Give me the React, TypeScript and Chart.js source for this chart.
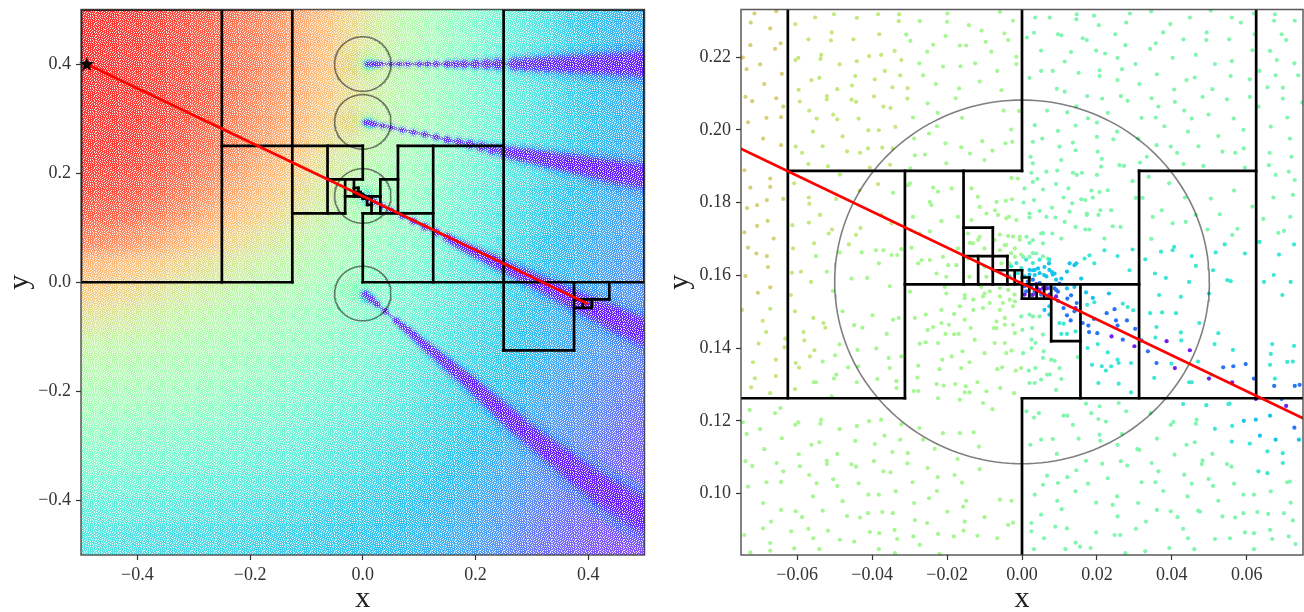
import React, { useEffect, useRef } from "react";
import { Chart, registerables } from "chart.js";

Chart.register(...registerables);

// LEFT PANEL DATA ------------------------------------------------------------
// The reference holds tens of thousands of dots. They cannot be read one by one,
// so this panel uses a colour table sampled by eye (colormap position 0..1),
// hand-read streak centre lines and a decorative speckle texture.
const gridXs = [-0.5,-0.45,-0.4,-0.35,-0.3,-0.25,-0.2,-0.15,-0.1,-0.05,0,0.05,0.1,0.15,0.2,0.25,0.3,0.35,0.4,0.45,0.5];
const gridYs = [0.5,0.45,0.4,0.35,0.3,0.25,0.2,0.15,0.1,0.05,0,-0.05,-0.1,-0.15,-0.2,-0.25,-0.3,-0.35,-0.4,-0.45,-0.5];
const colourRows = [
[.98,.98,.98,.97,.95,.93,.90,.87,.82,.77,.70,.63,.58,.53,.48,.43,.38,.33,.28,.25,.21],
[.99,.99,.98,.97,.95,.92,.89,.86,.81,.76,.70,.63,.58,.53,.47,.42,.37,.32,.27,.24,.21],
[1,.99,.98,.97,.95,.92,.89,.86,.81,.76,.68,.62,.57,.52,.47,.41,.36,.31,.27,.24,.21],
[.99,.99,.98,.97,.95,.92,.89,.85,.80,.75,.68,.62,.57,.52,.47,.41,.36,.31,.27,.24,.21],
[.99,.99,.98,.97,.95,.92,.88,.84,.79,.74,.67,.61,.56,.51,.46,.41,.36,.31,.27,.24,.21],
[.98,.98,.98,.96,.94,.90,.86,.82,.77,.71,.66,.60,.55,.51,.46,.40,.35,.31,.27,.24,.21],
[.98,.98,.97,.95,.92,.88,.84,.79,.74,.68,.62,.57,.53,.49,.44,.39,.34,.30,.26,.23,.20],
[.96,.96,.95,.93,.89,.85,.80,.76,.71,.65,.58,.54,.51,.47,.42,.37,.33,.28,.25,.22,.19],
[.93,.93,.92,.89,.85,.80,.76,.72,.67,.62,.56,.53,.49,.45,.40,.35,.31,.27,.24,.21,.19],
[.88,.87,.85,.82,.78,.74,.70,.66,.62,.58,.54,.50,.47,.43,.38,.34,.30,.25,.22,.20,.18],
[.78,.77,.75,.73,.70,.67,.64,.61,.58,.55,.52,.48,.45,.41,.36,.32,.28,.24,.22,.19,.17],
[.74,.72,.70,.67,.64,.62,.59,.57,.55,.52,.49,.46,.43,.39,.35,.31,.27,.23,.21,.19,.16],
[.68,.66,.64,.62,.60,.58,.56,.54,.52,.50,.47,.44,.41,.37,.33,.30,.26,.22,.20,.18,.15],
[.62,.60,.59,.58,.56,.55,.53,.52,.50,.48,.45,.43,.39,.35,.31,.28,.25,.22,.19,.17,.14],
[.58,.57,.56,.55,.54,.52,.51,.49,.47,.45,.43,.40,.37,.33,.30,.27,.24,.20,.18,.15,.12],
[.55,.54,.53,.52,.51,.49,.47,.46,.44,.42,.40,.38,.35,.31,.28,.26,.22,.19,.16,.14,.11],
[.51,.50,.49,.48,.47,.46,.44,.43,.41,.39,.37,.35,.33,.30,.27,.24,.21,.17,.15,.12,.09],
[.47,.46,.45,.44,.43,.42,.41,.39,.38,.36,.34,.32,.30,.28,.25,.22,.19,.15,.13,.10,.08],
[.43,.42,.41,.40,.39,.38,.37,.36,.34,.33,.31,.29,.28,.25,.23,.20,.17,.14,.11,.09,.07],
[.38,.37,.37,.36,.35,.34,.33,.32,.31,.29,.28,.27,.25,.23,.21,.18,.15,.12,.10,.08,.06],
[.35,.34,.33,.32,.31,.31,.30,.29,.28,.27,.26,.25,.24,.22,.20,.17,.13,.10,.08,.06,.05],
];
// x, y, colour position, radius
const haloSpots = [
[-0.02,0.4,.7,17],[0.002,0.4,.62,16],[0.012,0.4,.52,11],[0.012,0.4,.36,7],
[-0.02,0.294,.7,17],[0.002,0.294,.62,16],[0.012,0.293,.52,11],[0.012,0.291,.36,7],
[0,0.157,.53,21],[0.005,0.157,.44,13],[0.01,0.154,.3,8],
[-0.016,-0.012,.52,18],[0,-0.02,.46,15],[0.006,-0.027,.3,9],
];
// x, y, half width
const streakA = [[.008,.4,1.8],[.016,.4,2],[.024,.4,2],[.032,.4,1.5],[.05,.4,1.4],[.065,.4,1.4],[.08,.4,1.6],[.1,.4,1.8],[.115,.4,2],[.13,.4,2.2],[.15,.4,2.6],[.165,.4,2.8],[.18,.4,3],[.2,.4,3.3],[.22,.4,3.7],[.24,.4,4],[.27,.4,4.6],[.29,.4,5],[.31,.4,5.4],[.33,.4,5.8],[.35,.4,6.2],[.37,.4,6.6],[.39,.4,7],[.41,.4,7.4],[.43,.4,7.8],[.45,.4,8.2],[.47,.4,8.6],[.49,.4,9],[.5,.399,9]];
const streakB = [[.005,.293,2],[.012,.292,2.2],[.02,.29,2.2],[.035,.287,1.7],[.05,.284,1.6],[.07,.279,1.7],[.09,.275,1.8],[.11,.271,2],[.13,.266,2.2],[.15,.261,2.5],[.17,.257,2.8],[.19,.253,3.1],[.21,.249,3.4],[.23,.244,3.8],[.25,.24,4.2],[.265,.237,4.5],[.28,.234,4.8],[.295,.232,5.1],[.31,.229,5.4],[.325,.226,5.7],[.34,.223,6],[.355,.22,6.3],[.37,.218,6.6],[.385,.215,6.9],[.4,.212,7.2],[.415,.209,7.5],[.43,.206,7.8],[.445,.203,8.1],[.46,.2,8.4],[.48,.197,8.8],[.5,.194,9]];
const streakC = [[.005,.155,1.8],[.02,.148,2.2],[.035,.14,2],[.05,.132,2],[.07,.122,2.2],[.09,.112,2.4],[.11,.102,2.6],[.13,.092,2.8],[.15,.082,3],[.16,.076,3.1],[.17,.07,3.2],[.18,.065,3.4],[.19,.06,3.5],[.2,.055,3.7],[.21,.05,3.8],[.22,.045,4],[.23,.04,4.2],[.24,.035,4.4],[.25,.03,4.6],[.265,.022,4.9],[.28,.015,5.2],[.295,.008,5.5],[.31,0,5.8],[.325,-.007,6.1],[.34,-.014,6.4],[.355,-.022,6.7],[.37,-.03,7],[.385,-.037,7.3],[.4,-.044,7.6],[.415,-.051,8],[.43,-.058,8.4],[.445,-.066,8.8],[.46,-.073,9.2],[.48,-.082,9.8],[.5,-.092,10.5]];
const streakD = [[.005,-.022,2.6],[.015,-.031,2.8],[.025,-.04,2.2],[.04,-.053,2.2],[.06,-.071,2.4],[.07,-.08,2.6],[.08,-.088,2.8],[.09,-.097,3],[.1,-.106,3.2],[.11,-.115,3.4],[.12,-.124,3.6],[.13,-.132,3.8],[.14,-.141,4],[.15,-.15,4.2],[.16,-.158,4.4],[.17,-.167,4.6],[.18,-.175,4.8],[.19,-.184,5],[.2,-.193,5.2],[.21,-.202,5.4],[.22,-.212,5.6],[.23,-.221,5.8],[.24,-.23,6],[.25,-.239,6.2],[.26,-.248,6.4],[.27,-.257,6.7],[.28,-.266,7],[.295,-.279,7.3],[.31,-.291,7.6],[.325,-.303,7.9],[.34,-.315,8.2],[.355,-.327,8.6],[.37,-.339,9],[.385,-.351,9.4],[.4,-.362,9.8],[.415,-.374,10.2],[.43,-.385,10.6],[.445,-.394,11],[.46,-.403,11.4],[.48,-.415,12],[.5,-.428,12.5]];

// RIGHT PANEL DATA (x, y pairs in units of 1e-4) -------------------------------
const dotsOlive = [-714,2320,-656,2326,-724,2295,-672,2279,-725,2233,-644,2238,-659,2223,-745,2199,-699,2180,-735,2167,-641,2154,-688,2126,-738,2091,-720,2079,-656,2087,-637,2064,-682,2033,-643,2035,-731,2021,-691,1976,-643,1958,-741,1889,-672,1866,-672,1843,-725,1841,-681,1807,-637,1810,-707,1793,-734,1785,-663,1701,-707,1736,-679,1750,-741,1718,-709,1660,-681,1653,-731,1676,-678,1623,-738,1598,-672,1567,-705,1552];
const dotsLime = [-605,2291,-552,2309,-502,2318,-441,2308,-384,2318,-328,2318,-329,2299,-570,2249,-508,2268,-510,2246,-450,2249,-381,2263,-605,2192,-597,2198,-536,2206,-538,2195,-487,2180,-441,2189,-408,2203,-376,2206,-340,2217,-322,2192,-562,2137,-541,2143,-445,2148,-393,2139,-366,2162,-325,2150,-596,2110,-593,2078,-521,2093,-521,2084,-493,2112,-454,2122,-455,2083,-443,2077,-395,2092,-346,2117,-305,2115,-306,2086,-370,2064,-351,2060,-568,2053,-548,2031,-504,2042,-493,2029,-436,2031,-558,1995,-479,1982,-410,1999,-382,1999,-338,2008,-604,1954,-587,1937,-532,1955,-467,1941,-432,1937,-411,1949,-373,1951,-345,1949,-570,1906,-518,1900,-406,1896,-352,1904,-608,1853,-486,1877,-384,1851,-434,1833,-496,1810,-569,1814,-568,1797,-539,1766,-555,1688,-613,1738,-569,1745,-507,1726,-516,1715,-431,1730,-443,1711,-462,1685,-375,1766,-348,1743,-611,1674,-614,1607,-590,1610,-563,1582,-617,1546,-747,1505,-672,1508,-692,1475,-683,1444,-632,1426,-634,1402,-703,1412,-657,1368,-718,1361,-713,1317,-657,1323,-723,1292,-672,1276,-606,1501,-557,1483,-530,1469,-525,1456,-606,1287,-604,1359,-595,1346,-583,1444,-581,1421,-554,1394,-566,1377];
const dotsGreen = [-273,2299,-199,2320,-200,2297,-142,2288,-309,2262,-298,2245,-237,2234,-204,2258,-166,2232,-149,2232,-108,2273,-97,2242,-253,2215,-274,2183,-211,2174,-164,2175,-125,2183,-264,2150,-230,2126,-168,2114,-113,2133,-252,2073,-177,2087,-291,2034,-225,2047,-227,2010,-288,1976,-248,1990,-160,2033,-286,1930,-259,1932,-204,1963,-162,1952,-139,1935,-106,1969,-298,1894,-202,1908,-100,1917,-344,1827,-299,1853,-237,1841,-224,1830,-246,1802,-242,1793,-215,1749,-171,1761,-188,1839,-135,1839,-118,1816,-135,1752,-95,1770,-113,1788,-370,1669,-390,1669,-348,1656,-333,1656,-322,1672,-487,1663,-428,1663,-550,1653,-521,1610,-455,1591,-413,1593,-382,1633,-353,1570,-505,1557,-304,1848,-291,1761,-273,1715,-296,1724,-246,1721,-246,1642,-268,1642,-295,1676,-277,1633,-211,1651,-197,1628,-228,1605,-202,1596,-175,1628,-171,1674,-144,1715,-131,1688,-113,1706,-100,1674,-144,1646,-140,1596,-100,1623,-95,1596,-299,1555,-206,1568,-202,1550,-153,1546,-109,1568,-100,1550,-479,1501,-448,1463,-426,1456,-399,1490,-344,1478,-329,1483,-499,1380,-487,1410,-439,1395,-389,1399,-361,1439,-356,1373,-322,1377,-532,1363,-464,1347,-437,1350,-353,1345,-556,1306,-550,1306,-502,1316,-496,1327,-441,1306,-386,1315,-335,1309,-335,1290,-508,1267,-286,1483,-257,1492,-237,1458,-252,1450,-215,1505,-181,1494,-153,1478,-215,1469,-195,1464,-204,1439,-181,1438,-169,1439,-137,1455,-126,1423,-273,1412,-257,1416,-224,1414,-188,1377,-213,1368,-159,1391,-140,1361,-100,1386,-277,1352,-220,1342,-279,1319,-228,1301,-209,1297,-178,1301,-162,1345,-150,1295,-119,1306,-289,1282,-277,1282,-224,1262,-166,1258,-153,1278,-140,1278,-95,1281,-104,1249,-727,1230,-645,1235,-659,1221,-699,1177,-745,1196,-735,1164,-641,1152,-688,1122,-738,1089,-720,1076,-655,1084,-637,1061,-682,1031,-643,1032,-731,1019,-691,974,-643,955,-670,923,-691,904,-741,886,-672,864,-672,843,-725,838,-605,1189,-597,1196,-536,1203,-538,1192,-487,1177,-441,1186,-408,1199,-376,1203,-322,1190,-274,1180,-211,1166,-166,1166,-129,1168,-562,1134,-541,1141,-445,1145,-393,1136,-367,1159,-325,1148,-264,1148,-233,1123,-172,1095,-115,1129,-596,1108,-593,1075,-521,1090,-521,1081,-493,1109,-455,1080,-443,1074,-395,1089,-346,1114,-305,1111,-306,1083,-370,1061,-351,1058,-252,1070,-113,1067,-180,1051,-568,1051,-548,1028,-504,1039,-493,1021,-436,1028,-558,992,-479,979,-410,997,-382,997,-337,1006,-292,1031,-225,1045,-227,1007,-288,974,-248,987,-160,1030,-149,980,-157,964,-199,950,-604,951,-587,935,-532,953,-467,938,-432,934,-411,946,-373,949,-345,946,-286,927,-253,919,-153,923,-100,935,-616,896,-570,903,-518,898,-406,894,-381,891,-340,900,-290,882,-224,889,-182,882,-156,898,-119,884,-557,877,-486,873,-448,868,-333,875,-273,859,-608,849,-541,847,-382,847,-339,836,-220,834,-82,2215,-59,2324,-47,2265,-37,2247,-15,2181,-66,2162,-55,2109,-24,2300,-15,2201,-79,1943,-44,1963,-26,1967,-49,2053,-8,2052,-29,2001,-28,1868,-11,1866,-68,1802,-43,1805,-27,1809,-72,1779,-64,1766,-35,1761,-15,1752,-19,1674,-6,1706,-37,1708,-46,1683,-59,1669,-73,1697,-33,1633,-55,1633,-19,1651,-42,1757,-73,1414,-46,1414,-28,1393,-42,1386,-66,1342,-53,1347,-17,1338,-2,1345,-58,1290,-21,1276,-68,1455,-46,1464,-19,1441,-51,1524,-19,1528,-46,1483,-24,1464,-68,1473,-75,1455,-79,1232,-59,983,-28,980,-37,914,-24,920,-66,877,-139,1689,-117,1698,-59,1712,-24,1707,-6,1698,-42,1684,-29,1661,-2,1657,-130,1533,-104,1542,-86,1524,-59,1542,-33,1533,-104,1510,-59,1505,-24,1515,-166,1515,-153,1537,-130,1505,-86,1556,-59,1565,-37,1560,-20,1547];
const dotsMint = [35,2309,74,2309,146,2318,192,2314,288,2320,345,2326,448,2309,504,2328,560,2309,619,2320,675,2318,145,2304,205,2288,278,2295,396,2291,584,2295,673,2300,728,2300,13,2254,32,2267,96,2263,105,2260,162,2252,173,2247,249,2263,276,2233,377,2268,357,2238,342,2223,431,2249,493,2268,492,2247,553,2249,621,2263,693,2263,705,2247,51,2218,131,2214,198,2218,222,2210,255,2198,114,2188,303,2181,402,2198,464,2206,515,2181,560,2189,615,2219,662,2217,680,2192,727,2183,51,2162,82,2162,151,2157,207,2164,267,2167,207,2148,255,2137,313,2126,360,2153,439,2137,461,2144,557,2148,608,2139,677,2150,737,2150,634,2162,20,2143,93,2113,114,2105,174,2093,214,2086,264,2093,282,2080,346,2087,406,2111,408,2077,482,2091,508,2112,547,2084,608,2091,655,2117,696,2116,696,2086,631,2064,748,2075,67,2053,121,2048,145,2065,176,2032,229,2047,364,2064,433,2053,498,2042,319,2033,357,2034,453,2031,565,2031,708,2034,34,2013,96,1997,143,2012,200,2020,254,1995,380,2010,443,1995,591,2000,664,2009,715,1976,524,1983,29,1967,54,1976,100,1954,136,1965,244,1974,200,1981,310,1976,359,1958,397,1954,471,1955,414,1937,535,1940,569,1937,592,1949,661,1937,23,1926,105,1917,143,1944,202,1940,213,1920,211,1899,260,1903,272,1901,315,1910,333,1926,431,1906,484,1901,595,1896,659,1903,719,1926,677,1876,712,1885,29,1908,65,1885,94,1888,136,1882,146,1876,160,1882,200,1876,25,1882,29,1857,41,1865,91,1851,124,1839,56,1836,7,1839,185,1833,207,1829,229,1834,295,1859,304,1813,322,1813,338,1871,393,1853,435,1814,504,1811,566,1833,615,1789,671,1814,728,1862,723,1821,4,1800,32,1807,80,1786,111,1814,134,1798,158,1809,169,1807,189,1814,238,1779,209,1779,20,1770,20,1759,47,1777,65,1761,89,1759,127,1775,173,1766,173,1770,143,1733,114,1747,169,1726,180,1726,204,1766,242,1735,263,1733,220,1701,349,1761,373,1779,402,1743,437,1747,464,1766,495,1726,528,1768,575,1728,561,1711,644,1755,716,1761,684,1717,699,1722,345,1700,12,1706,29,1697,51,1715,81,1715,105,1701,56,1688,20,1651,38,1660,69,1646,3,1651,171,1247,207,1240,258,1249,278,1226,343,1221,397,1189,404,1197,464,1192,466,1203,360,1151,439,1134,461,1141,508,1109,313,1120,255,1134,207,1162,209,1145,151,1151,82,1150,51,1148,22,1134,12,1226,32,1209,45,1221,111,1214,121,1214,136,1189,185,1221,204,1205,224,1198,267,1164,308,1122,93,1109,171,1090,214,1082,264,1089,281,1077,346,1084,407,1107,482,1091,480,1081,547,1081,559,1074,364,1061,433,1052,145,1064,121,1045,67,1049,56,1024,96,1029,176,1027,229,1042,319,1031,356,1031,453,1027,498,1040,510,1021,566,1027,377,1007,442,992,591,997,619,997,664,1006,708,1031,715,1033,717,975,524,980,34,997,143,1006,198,975,254,992,242,969,310,974,94,980,106,957,51,942,255,937,360,955,397,951,470,953,475,950,415,935,535,937,569,934,591,946,628,949,657,944,699,946,723,926,25,919,25,896,89,909,120,904,198,893,331,923,304,903,247,886,262,886,430,903,443,877,515,875,555,877,595,893,619,891,662,900,668,875,712,882,730,861,59,877,143,865,155,854,183,850,116,847,32,847,276,836,329,841,393,850,460,847,619,847,3,1386,25,1400,58,1391,56,1373,78,1368,87,1365,100,1345,18,1338,36,1345,67,1327,74,1327,51,1313,105,1315,20,1304,34,1304,91,1285,1,1450,27,1455,25,1423,36,1414,56,1437,149,1375,20,1492,47,1487,29,1487,-2,1487,20,1689,56,1716,29,1661,56,1652];
const dotsAqua = [220,1669,180,1655,167,1646,193,1633,329,1644,371,1665,295,1671,287,1614,255,1653,402,1669,406,1678,453,1653,517,1663,541,1685,595,1660,634,1692,686,1657,726,1685,672,1601,717,1582,646,1582,695,1546,355,1605,384,1593,446,1582,464,1626,510,1614,548,1587,557,1584,366,1546,424,1541,499,1550,174,1519,193,1526,269,1522,282,1513,297,1504,342,1496,374,1498,411,1496,424,1443,425,1421,356,1429,359,1458,473,1469,514,1411,563,1395,470,1363,399,1357,353,1318,446,1306,453,1306,505,1327,524,1441,668,1411,664,1384,662,1354,675,1316,708,1362,723,1363,726,1406,430,1246,492,1243,551,1246,554,1247,515,1178,561,1186,560,1143,608,1137,655,1116,696,1111,696,1084,631,1061,655,1056,175,1400,229,1388,255,1368,258,1359,291,1359,213,1350,187,1354,224,1338,238,1350,204,1304,258,1302,291,1278,100,1469,111,1467,143,1446,105,1439,120,1439,202,1411,-15,1634,-29,1625,11,1643,29,1634,47,1643,73,1643,-2,1620,-11,1606,-33,1597,-6,1579];
const dotsCyan = [145,1633,127,1633,120,1610,140,1628,158,1591,105,1591,87,1605,60,1623,59,1601,80,1609,72,1633,43,1619,29,1614,34,1601,47,1577,232,1550,189,1538,171,1553,140,1568,120,1564,662,1214,592,1200,635,1159,677,1148,739,1148,624,1203,20,1615,34,1615,47,1606,65,1597,82,1602,20,1602,7,1597,73,1615,91,1588,73,1515,73,1492,60,1505];
const dotsBlue = [100,1577,96,1530,146,1524,111,1510,140,1501,120,1490,130,1476,162,1469,192,1480,177,1462,226,1496,247,1507,251,1476,280,1476,302,1453,255,1462,179,1444,201,1441,269,1423,319,1421,336,1391,359,1359,537,1347,564,1350,597,1356,619,1316,673,1296,728,1296,741,1299,693,1260,727,1181,27,1545,121,1536,131,1545,96,1555,87,1564,16,1583,29,1588,7,1570,25,1570,47,1579,65,1574,91,1560,11,1556,34,1556,51,1547,73,1565];
const dotsPurple = [38,1576,65,1564,239,1432,300,1405,386,1419,408,1345,448,1394,499,1316,561,1306,624,1260,705,1241,143,1510,20,1574,40,1565,56,1565,29,1547,47,1560,73,1547,91,1542,7,1547];

// Decision-tree cell edges: x0, y0, x1, y1
const cellEdges = [
[-.5,.5,-.125,.5],[.25,.5,.5,.5],[-.5,0,-.125,0],[0,0,.5,0],[-.25,.25,0,.25],[.0625,.25,.25,.25],
[-.125,.1262,-.03125,.1262],[0,.1262,.125,.1262],[-.0625,.1887,0,.1887],[.03125,.1887,.0625,.1887],
[-.03125,.1575,.03125,.1575],[-.0156,.1731,-.0078,.1731],[-.0156,.1653,-.0039,.1653],[-.0078,.1614,0,.1614],
[0,.1594,.00195,.1594],[0,.1536,.0078,.1536],[.0078,.1419,.0156,.1419],[.25,-.125,.375,-.125],
[.375,-.03125,.4375,-.03125],[.375,-.0469,.40625,-.0469],
[-.5,0,-.5,.5],[-.25,0,-.25,.5],[-.125,0,-.125,.5],[-.0625,.1262,-.0625,.25],[-.03125,.1262,-.03125,.1887],
[0,.1887,0,.25],[0,0,0,.1262],[-.0156,.1575,-.0156,.1887],[-.0078,.1575,-.0078,.1731],[-.0117,.1575,-.0117,.1653],
[-.0039,.1575,-.0039,.1653],[-.00195,.1575,-.00195,.1614],[0,.1536,0,.1614],[.00195,.1536,.00195,.1594],
[.0039,.1536,.0039,.1575],[.0059,.1536,.0059,.1575],[.0078,.1419,.0078,.1575],[.0156,.1262,.0156,.1575],
[.03125,.1262,.03125,.1887],[.0625,.1262,.0625,.25],[.125,0,.125,.25],[.25,-.125,.25,.5],[.5,0,.5,.5],
[.375,-.125,.375,0],[.4375,-.03125,.4375,0],[.40625,-.0469,.40625,-.03125],[.3906,-.0469,.3906,-.03125],
];
// centre x, centre y, radius
const circles = [[0,.4,.05],[0,.294,.05],[0,.1582,.05],[0,-.0207,.05]];
const rayPoints = [{x:-.49,y:.4},{x:.4,y:-.04}];
const starPoint = [{x:-.49,y:.4}];

const leftXTicks = [-.4,-.2,0,.2,.4];
const leftYTicks = [-.4,-.2,0,.2,.4];
const rightXTicks = [-.06,-.04,-.02,0,.02,.04,.06];
const rightYTicks = [.1,.12,.14,.16,.18,.2,.22];
const speckleRows = [
"#..#..#...#..#.#...#..#.",".#...#..#...#....#...#..","...#...#..#...##...#...#","#.#..#...#..#....#...#..",
"...#...#...#..#.#..#..#.",".#...#..##...#....#...#.","#..#...#...#...#.#..#...","..#..#...#...#.....#..#.",
"#...#..#...#..#.#.#...#.",".#.#..#..#...#......#..#","....#...#..#...#.#.#....","#.#...#...#..#.....#.#.#",
"...#.#..#...#..#.#.....#",".#.....#..#...#...#.#.#.","#..#.#...#..#...#......#","..#...#.#..#..#...#.#...",
"#...#.....#.....#.#..#.#",".#.#..#.#..#.#.......#..","....#....#....#.#.#.#..#","#.#..#.#...#.#.......#..",
"...#....#.#....#.#.#...#",".#...#.....#.#.......#..","#..#...#.#.....#.#.#...#","..#..#...#..#.#.......#.",
];

const FONT = "'Liberation Serif', serif";

function rainbow(t: number) {
  const r = Math.min(1, Math.abs(2 * t - 0.5));
  const g = Math.sin(Math.PI * t);
  const b = Math.cos((Math.PI * t) / 2);
  return [Math.round(r * 255), Math.round(g * 255), Math.round(b * 255)];
}
function css(t: number, a = 1) {
  const [r, g, b] = rainbow(t);
  return `rgba(${r},${g},${b},${a})`;
}

const blobCache = new Map<string, HTMLCanvasElement>();
function blob(t: number, radius: number, inner: number, alpha: number) {
  const key = `${t.toFixed(2)}|${radius.toFixed(1)}|${inner}|${alpha}`;
  let c = blobCache.get(key);
  if (!c) {
    c = document.createElement("canvas");
    const s = Math.ceil(radius) * 2 + 2;
    c.width = s;
    c.height = s;
    const g = c.getContext("2d")!;
    const grad = g.createRadialGradient(s / 2, s / 2, 0, s / 2, s / 2, radius);
    grad.addColorStop(0, css(t, alpha));
    grad.addColorStop(inner, css(t, alpha));
    grad.addColorStop(1, css(t, 0));
    g.fillStyle = grad;
    g.fillRect(0, 0, s, s);
    blobCache.set(key, c);
  }
  return c;
}

function starCanvas() {
  const c = document.createElement("canvas");
  c.width = 18;
  c.height = 18;
  const g = c.getContext("2d")!;
  g.fillStyle = "#000";
  g.beginPath();
  for (let i = 0; i < 10; i++) {
    const r = i % 2 ? 3.2 : 8;
    const a = -Math.PI / 2 + (i * Math.PI) / 5;
    const px = 9 + r * Math.cos(a);
    const py = 9.5 + r * Math.sin(a);
    if (i) g.lineTo(px, py);
    else g.moveTo(px, py);
  }
  g.closePath();
  g.fill();
  return c;
}

const specklePlugin = {
  id: "speckle",
  afterDatasetDraw(chart: any, args: any) {
    const ds = chart.data.datasets[args.index];
    const { left, top, width, height } = chart.chartArea;
    const ctx = chart.ctx;
    if (ds.whiten) {
      ctx.save();
      ctx.fillStyle = "rgba(255,255,255,0.2)";
      ctx.fillRect(left, top, width, height);
      ctx.restore();
    }
    if (!ds.speckle) return;
    const size = speckleRows.length;
    const tile = document.createElement("canvas");
    tile.width = size;
    tile.height = size;
    const g = tile.getContext("2d")!;
    g.fillStyle = "rgba(255,255,255,0.85)";
    speckleRows.forEach((row, y) => {
      for (let x = 0; x < row.length; x++) if (row[x] === "#") g.fillRect(x, y, 1, 1);
    });
    ctx.save();
    ctx.fillStyle = ctx.createPattern(tile, "repeat");
    ctx.fillRect(left, top, width, height);
    ctx.restore();
  },
};

const framePlugin = {
  id: "frame",
  afterDatasetsDraw(chart: any) {
    const { left, top, width, height } = chart.chartArea;
    const ctx = chart.ctx;
    ctx.save();
    ctx.strokeStyle = "rgba(60,60,60,0.85)";
    ctx.lineWidth = 1.5;
    ctx.strokeRect(left, top, width, height);
    ctx.restore();
  },
};

function pairs(list: number[]) {
  const out: { x: number; y: number }[] = [];
  for (let i = 0; i < list.length; i += 2) out.push({ x: list[i] / 10000, y: list[i + 1] / 10000 });
  return out;
}

function lineSets() {
  const sets: any[] = [];
  circles.forEach(([cx, cy, r]) => {
    const data = [];
    for (let i = 0; i <= 180; i++) {
      const a = (i / 180) * 2 * Math.PI;
      data.push({ x: cx + r * Math.cos(a), y: cy + r * Math.sin(a) });
    }
    sets.push({ data, showLine: true, pointRadius: 0, borderColor: "rgba(0,0,0,0.5)", borderWidth: 1.6, order: 50 });
  });
  cellEdges.forEach(([a, b, c, d]) => {
    sets.push({ data: [{ x: a, y: b }, { x: c, y: d }], showLine: true, pointRadius: 0, borderColor: "#000", borderWidth: 2.7, borderCapStyle: "square", order: 40 });
  });
  sets.push({ data: rayPoints, showLine: true, pointRadius: 0, borderColor: "#ff0000", borderWidth: 2.7, order: 30 });
  const star = starCanvas();
  sets.push({ data: starPoint, pointStyle: star, pointRadius: 8, order: 20, clip: false });
  return sets;
}

function leftClouds() {
  const grid: any[] = [];
  colourRows.forEach((row, j) =>
    row.forEach((t, i) => grid.push({ x: gridXs[i], y: gridYs[j], t, r: 40 }))
  );
  const sets: any[] = [
    {
      data: grid,
      pointRadius: 5,
      pointStyle: (c: any) => blob(c.raw.t, c.raw.r, 0.5, 1),
      clip: 0,
      order: 100,
      whiten: true,
    },
    {
      data: haloSpots.map(([x, y, t, r]) => ({ x, y, t, r })),
      pointRadius: 5,
      pointStyle: (c: any) => blob(c.raw.t, c.raw.r, 0.35, 0.7),
      clip: 0,
      order: 90,
    },
  ];
  const streaks = [streakA, streakB, streakC, streakD];
  streaks.forEach((s) => {
    sets.push({
      data: s.map(([x, y, r]) => ({ x, y, r })),
      pointRadius: 5,
      pointStyle: (c: any) => blob(0.16, Math.max(c.raw.r * 2.8, 6), 0.3, 0.5),
      clip: 0,
      order: 80,
    });
  });
  streaks.forEach((s, i) => {
    sets.push({
      data: s.map(([x, y, r]) => ({ x, y, r })),
      showLine: true,
      borderColor: "rgba(110,40,240,0.55)",
      borderWidth: 3,
      pointRadius: 5,
      pointStyle: (c: any) => blob(0.04, c.raw.r * 1.8, 0.5, 0.8),
      clip: 0,
      order: 70 - i,
      speckle: i === 3,
    });
  });
  return sets;
}

function rightDots() {
  const bands: [number[], string][] = [
    [dotsOlive, "rgb(214,208,118)"],
    [dotsLime, "rgb(196,232,126)"],
    [dotsGreen, "rgb(166,246,146)"],
    [dotsMint, "rgb(130,246,174)"],
    [dotsAqua, "rgb(60,232,212)"],
    [dotsCyan, "rgb(24,196,236)"],
    [dotsBlue, "rgb(40,116,246)"],
    [dotsPurple, "rgb(112,30,244)"],
  ];
  return bands.map(([list, color], i) => ({
    data: pairs(list),
    pointRadius: 2.1,
    pointBorderWidth: 0,
    pointBackgroundColor: color,
    order: 70 - i,
  }));
}

function fmt(v: number, digits: number) {
  return (v < -1e-9 ? "\u2212" : "") + Math.abs(v).toFixed(digits);
}

function options(
  xr: number[], yr: number[], xt: number[], yt: number[], digits: number, right: number
) {
  const axis = (min: number, max: number, ticks: number[], text: string, isX: boolean) => ({
    type: "linear",
    min,
    max,
    afterBuildTicks: (s: any) => { s.ticks = ticks.map((value) => ({ value })); },
    afterFit: (s: any) => {
      if (isX) s.height = 57; else s.width = 81;
      s.paddingTop = 0; s.paddingBottom = 0; s.paddingLeft = 0; s.paddingRight = 0;
    },
    grid: { drawOnChartArea: false, drawTicks: true, tickLength: 5, tickColor: "#333", tickWidth: 1.2 },
    border: { display: false },
    ticks: {
      autoSkip: false,
      maxRotation: 0,
      padding: isX ? 4 : 5,
      color: "#333",
      font: { family: FONT, size: 18 },
      callback: (v: number) => fmt(v, digits),
    },
    title: {
      display: true,
      text,
      color: "#222",
      font: { family: FONT, size: 30, lineHeight: 1 },
      padding: isX ? { top: 0, bottom: -2 } : { top: 5, bottom: 0 },
    },
  });
  return {
    animation: false,
    responsive: false,
    devicePixelRatio: 1,
    layout: { autoPadding: false, padding: { left: 0, top: 9.5, right, bottom: 0 } },
    plugins: { legend: { display: false }, tooltip: { enabled: false } },
    events: [],
    scales: {
      x: axis(xr[0], xr[1], xt, "x", true),
      y: axis(yr[0], yr[1], yt, "y", false),
    },
  } as any;
}

export default function App() {
  const leftRef = useRef<HTMLCanvasElement>(null);
  const rightRef = useRef<HTMLCanvasElement>(null);
  useEffect(() => {
    const a = new Chart(leftRef.current!, {
      type: "scatter",
      data: { datasets: [...leftClouds(), ...lineSets()] },
      options: options([-.5, .5], [-.5, .5], leftXTicks, leftYTicks, 1, 15.5),
      plugins: [specklePlugin, framePlugin],
    } as any);
    const b = new Chart(rightRef.current!, {
      type: "scatter",
      data: { datasets: [...rightDots(), ...lineSets()] },
      options: options([-.075, .075], [.0831, .2331], rightXTicks, rightYTicks, 2, 1),
      plugins: [framePlugin],
    } as any);
    return () => { a.destroy(); b.destroy(); };
  }, []);
  return (
    <div style={{ position: "fixed", left: 0, top: 0, width: 1304, height: 612, background: "#fff" }}>
      <canvas ref={leftRef} width={660} height={612} style={{ position: "absolute", left: 0, top: 0 }} />
      <canvas ref={rightRef} width={644} height={612} style={{ position: "absolute", left: 660, top: 0 }} />
    </div>
  );
}
